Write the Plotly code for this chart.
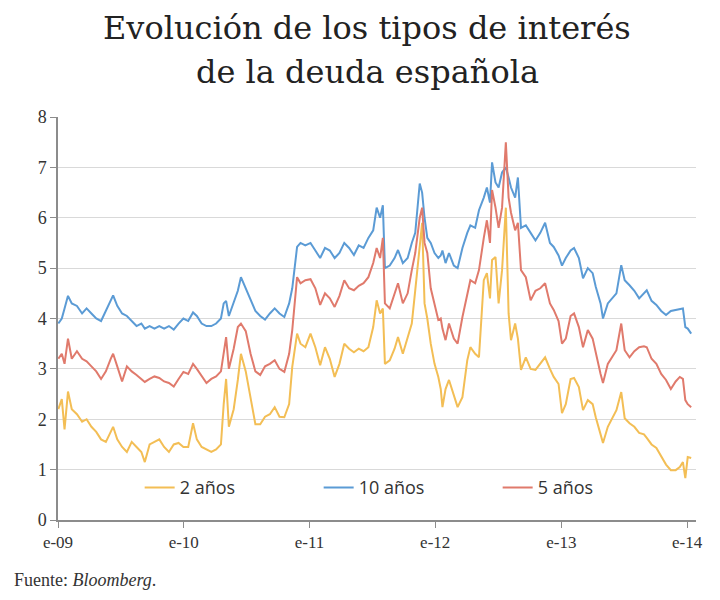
import plotly.graph_objects as go

# fechas de lectura (aprox. quincenal, con puntos extra en los picos)
fechas = [
    "2009-01-02", "2009-01-12", "2009-01-20", "2009-01-30", "2009-02-10", "2009-02-25",
    "2009-03-12", "2009-03-25", "2009-04-08", "2009-04-22", "2009-05-06", "2009-05-20",
    "2009-06-03", "2009-06-10", "2009-06-22", "2009-07-06", "2009-07-20", "2009-08-03",
    "2009-08-17", "2009-08-31", "2009-09-10", "2009-09-24", "2009-10-08", "2009-10-22",
    "2009-11-05", "2009-11-19", "2009-12-03", "2009-12-17", "2009-12-31",
    "2010-01-14", "2010-01-28", "2010-02-08", "2010-02-22", "2010-03-08", "2010-03-22",
    "2010-04-05", "2010-04-19", "2010-04-27", "2010-05-04", "2010-05-12", "2010-05-26",
    "2010-06-07", "2010-06-16", "2010-06-30", "2010-07-14", "2010-07-28", "2010-08-11",
    "2010-08-25", "2010-09-08", "2010-09-22", "2010-10-06", "2010-10-20", "2010-11-03",
    "2010-11-12", "2010-11-26", "2010-12-06", "2010-12-20",
    "2011-01-04", "2011-01-18", "2011-02-01", "2011-02-15", "2011-03-01", "2011-03-15",
    "2011-03-29", "2011-04-12", "2011-04-26", "2011-05-10", "2011-05-24", "2011-06-07",
    "2011-06-21", "2011-07-05", "2011-07-15", "2011-07-25", "2011-08-02", "2011-08-08",
    "2011-08-22", "2011-09-05", "2011-09-15", "2011-09-29", "2011-10-13", "2011-10-25",
    "2011-11-04", "2011-11-17", "2011-11-24", "2011-12-01", "2011-12-09", "2011-12-19",
    "2011-12-30",
    "2012-01-10", "2012-01-17", "2012-01-22", "2012-01-31", "2012-02-10", "2012-02-24",
    "2012-03-06", "2012-03-20", "2012-04-03", "2012-04-12", "2012-04-26", "2012-05-07",
    "2012-05-21", "2012-05-30", "2012-06-08", "2012-06-14", "2012-06-24", "2012-07-03",
    "2012-07-13", "2012-07-24", "2012-08-01", "2012-08-08", "2012-08-20", "2012-08-28",
    "2012-09-06", "2012-09-20", "2012-10-04", "2012-10-18", "2012-11-01", "2012-11-15",
    "2012-11-29", "2012-12-10", "2012-12-24",
    "2013-01-03", "2013-01-14", "2013-01-28", "2013-02-07", "2013-02-21", "2013-03-05",
    "2013-03-19", "2013-04-02", "2013-04-11", "2013-04-25", "2013-05-02", "2013-05-16",
    "2013-05-30", "2013-06-10", "2013-06-24", "2013-07-04", "2013-07-18", "2013-08-01",
    "2013-08-15", "2013-08-29", "2013-09-06", "2013-09-20", "2013-10-04", "2013-10-18",
    "2013-11-01", "2013-11-15", "2013-11-29", "2013-12-11", "2013-12-20", "2013-12-27",
    "2014-01-03", "2014-01-13",
]

diez_anos = [
    3.90, 4.00, 4.20, 4.45, 4.30, 4.25, 4.10, 4.20, 4.10, 4.00, 3.95, 4.15,
    4.35, 4.46, 4.25, 4.10, 4.05, 3.95, 3.85, 3.90, 3.80, 3.85, 3.80, 3.85,
    3.80, 3.85, 3.78, 3.90, 4.00,
    3.95, 4.12, 4.05, 3.90, 3.85, 3.85, 3.90, 4.00, 4.30, 4.35, 4.05, 4.30,
    4.55, 4.82, 4.60, 4.40, 4.15, 4.05, 3.98, 4.10, 4.20, 4.10, 4.03, 4.30,
    4.60, 5.42, 5.50, 5.45,
    5.50, 5.35, 5.20, 5.40, 5.35, 5.20, 5.30, 5.50, 5.40, 5.26, 5.45, 5.40,
    5.60, 5.75, 6.20, 6.00, 6.25, 5.00, 5.05, 5.20, 5.36, 5.10, 5.20, 5.50,
    5.70, 6.68, 6.50, 6.00, 5.60, 5.50, 5.30,
    5.20, 5.25, 5.35, 5.10, 5.30, 5.05, 5.00, 5.40, 5.70, 5.85, 5.80, 6.15,
    6.40, 6.60, 6.30, 7.10, 6.70, 6.60, 6.90, 7.00, 6.80, 6.60, 6.40, 6.80,
    5.80, 5.85, 5.70, 5.55, 5.70, 5.90, 5.50, 5.42, 5.25,
    5.05, 5.20, 5.35, 5.40, 5.20, 4.80, 5.00, 4.90, 4.63, 4.30, 4.00, 4.30,
    4.40, 4.50, 5.06, 4.76, 4.66, 4.55, 4.40, 4.50, 4.56, 4.35, 4.27, 4.15,
    4.07, 4.15, 4.17, 4.20, 4.20, 3.83, 3.80, 3.70,
]

cinco_anos = [
    3.20, 3.30, 3.10, 3.60, 3.20, 3.35, 3.20, 3.15, 3.05, 2.95, 2.80, 2.95,
    3.20, 3.30, 3.05, 2.75, 3.05, 2.95, 2.88, 2.80, 2.74, 2.80, 2.85, 2.82,
    2.75, 2.72, 2.65, 2.80, 2.94,
    2.90, 3.10, 3.00, 2.85, 2.72, 2.80, 2.85, 2.95, 3.30, 3.63, 3.00, 3.40,
    3.83, 3.90, 3.75, 3.30, 2.95, 2.88, 3.05, 3.10, 3.17, 3.00, 2.94, 3.30,
    3.77, 4.82, 4.70, 4.76,
    4.78, 4.60, 4.27, 4.50, 4.40, 4.23, 4.45, 4.76, 4.60, 4.56, 4.65, 4.70,
    4.82, 5.10, 5.40, 5.20, 5.60, 4.30, 4.20, 4.50, 4.70, 4.30, 4.50, 4.96,
    5.30, 6.00, 6.20, 5.50, 5.30, 4.60, 4.30,
    3.97, 4.00, 3.80, 3.57, 3.90, 3.60, 3.50, 4.03, 4.50, 4.76, 4.70, 4.96,
    5.60, 5.95, 5.50, 6.55, 6.20, 5.80, 6.20, 7.50, 6.40, 6.10, 5.75, 5.90,
    4.96, 4.82, 4.36, 4.55, 4.60, 4.70, 4.30, 4.17, 3.95,
    3.50, 3.60, 4.05, 4.10, 3.83, 3.43, 3.77, 3.60, 3.30, 2.90, 2.72, 3.10,
    3.25, 3.37, 3.90, 3.37, 3.23, 3.35, 3.43, 3.45, 3.43, 3.20, 3.10, 2.90,
    2.78, 2.60, 2.75, 2.84, 2.80, 2.38, 2.30, 2.24,
]

dos_anos = [
    2.20, 2.40, 1.80, 2.55, 2.20, 2.10, 1.95, 2.00, 1.85, 1.75, 1.60, 1.55,
    1.75, 1.85, 1.60, 1.45, 1.35, 1.55, 1.45, 1.35, 1.15, 1.50, 1.55, 1.60,
    1.45, 1.35, 1.50, 1.53, 1.45,
    1.45, 1.92, 1.60, 1.45, 1.40, 1.35, 1.40, 1.50, 2.30, 2.80, 1.85, 2.20,
    2.78, 3.30, 2.95, 2.40, 1.90, 1.90, 2.05, 2.10, 2.24, 2.05, 2.04, 2.30,
    3.04, 3.70, 3.50, 3.43,
    3.70, 3.43, 3.07, 3.43, 3.20, 2.84, 3.10, 3.50, 3.40, 3.33, 3.40, 3.35,
    3.43, 3.83, 4.36, 4.10, 4.20, 3.10, 3.17, 3.40, 3.63, 3.30, 3.60, 3.90,
    4.56, 5.40, 5.90, 4.30, 4.00, 3.50, 3.10,
    2.84, 2.60, 2.24, 2.60, 2.78, 2.50, 2.24, 2.44, 3.17, 3.43, 3.30, 3.23,
    4.76, 4.90, 4.40, 5.16, 5.22, 4.30, 4.96, 6.20, 4.10, 3.57, 3.90, 3.60,
    2.98, 3.23, 3.00, 2.98, 3.10, 3.23, 3.00, 2.84, 2.70,
    2.12, 2.30, 2.80, 2.82, 2.64, 2.18, 2.38, 2.30, 2.04, 1.70, 1.53, 1.85,
    2.05, 2.18, 2.54, 2.02, 1.92, 1.85, 1.73, 1.70, 1.63, 1.50, 1.43, 1.25,
    1.10, 0.99, 0.99, 1.05, 1.15, 0.83, 1.25, 1.23,
]

tick_fechas = ["2009-01-01", "2010-01-01", "2011-01-01", "2012-01-01", "2013-01-01", "2014-01-01"]
tick_textos = ["e-09", "e-10", "e-11", "e-12", "e-13", "e-14"]

fig = go.Figure()
fig.add_trace(go.Scatter(x=fechas, y=dos_anos, name="2 años", mode="lines",
                         line=dict(color="#F3BE55", width=2)))
fig.add_trace(go.Scatter(x=fechas, y=diez_anos, name="10 años", mode="lines",
                         line=dict(color="#5B9BD5", width=2)))
fig.add_trace(go.Scatter(x=fechas, y=cinco_anos, name="5 años", mode="lines",
                         line=dict(color="#E07A6C", width=2)))

# la página añade 8 px de margen, por eso 712x592
fig.update_layout(
    width=712, height=592,
    paper_bgcolor="white", plot_bgcolor="white",
    margin=dict(l=50, r=24, t=109, b=80),
    legend=dict(orientation="h", x=0.128, xanchor="left", y=0.08, yanchor="middle",
                bgcolor="rgba(0,0,0,0)", entrywidth=134,
                font=dict(family="Open Sans", size=18, color="#333333")),
    showlegend=True,
)

titulo = ["Evolución de los tipos de interés", "de la deuda española"]
for texto, ypos in zip(titulo, [1.222, 1.112]):
    fig.add_annotation(
        text=texto, xref="paper", yref="paper", x=0.485, y=ypos,
        xanchor="center", yanchor="middle", showarrow=False,
        font=dict(family="DejaVu Serif", size=32, color="#222222"),
    )

fig.update_xaxes(
    type="date", range=["2009-01-01", "2014-01-27"],
    tickvals=tick_fechas, ticktext=tick_textos,
    showgrid=False, showline=True, linecolor="#8c8c8c", linewidth=1.5,
    ticks="outside", ticklen=6, tickcolor="#8c8c8c",
    tickfont=dict(family="Liberation Serif", size=17, color="#333333"),
)
fig.update_yaxes(
    range=[0, 8], dtick=1,
    showgrid=True, gridcolor="#d9d9d9", gridwidth=1,
    showline=True, linecolor="#8c8c8c", linewidth=1.5,
    ticks="outside", ticklen=6, tickcolor="#8c8c8c",
    tickfont=dict(family="Liberation Serif", size=18, color="#333333"),
    zeroline=False,
)

fig.add_annotation(
    text="Fuente: <i>Bloomberg</i>.", xref="paper", yref="paper",
    x=-0.072, y=-0.149, xanchor="left", yanchor="middle", showarrow=False,
    font=dict(family="Liberation Serif", size=18, color="#333333"),
)

fig.write_html("out.html")
